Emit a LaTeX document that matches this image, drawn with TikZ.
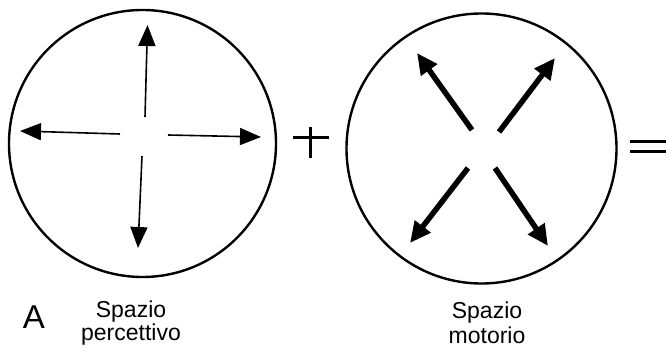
\documentclass[tikz,border=0pt]{standalone}
\usepackage{fontspec}
\setmainfont{Liberation Sans}
\usetikzlibrary{arrows.meta}
\begin{document}
\begin{tikzpicture}[x=1pt,y=-1pt,
  ring/.style={draw,line width=2.4pt,circle,inner sep=0pt},
  thinarrow/.style={line width=1.6pt,-{Triangle[length=21pt,width=17pt]}},
  thickarrow/.style={line width=5.5pt,-{Triangle[length=21pt,width=19pt]}},
  sym/.style={line width=3pt},
  lab/.style={font=\fontsize{23}{23}\selectfont,anchor=base,inner sep=0pt}]
\useasboundingbox (0,0) rectangle (666,352);
\clip (0,0) rectangle (666,352);
% circles
\node[ring,minimum size=267pt] (c1) at (142.5,143.5) {};
\node[ring,minimum size=270pt] (c2) at (481.5,148.5) {};
% perceptual arrows
\coordinate (u0) at (145,117); \coordinate (u1) at (147.5,25);
\coordinate (l0) at (120,134); \coordinate (l1) at (20,131);
\coordinate (r0) at (168,135); \coordinate (r1) at (261,137);
\coordinate (d0) at (142,156); \coordinate (d1) at (138,248);
\draw[thinarrow] (u0) -- (u1);
\draw[thinarrow] (l0) -- (l1);
\draw[thinarrow] (r0) -- (r1);
\draw[thinarrow] (d0) -- (d1);
% motor arrows
\coordinate (nw0) at (472,130); \coordinate (nw1) at (417,53);
\coordinate (ne0) at (499,132); \coordinate (ne1) at (555,58);
\coordinate (sw0) at (468,168); \coordinate (sw1) at (410,243);
\coordinate (se0) at (495,168); \coordinate (se1) at (548,246);
\draw[thickarrow] (nw0) -- (nw1);
\draw[thickarrow] (ne0) -- (ne1);
\draw[thickarrow] (sw0) -- (sw1);
\draw[thickarrow] (se0) -- (se1);
% plus
\coordinate (pl) at (293,138); \coordinate (pr) at (329,138);
\coordinate (pt) at (310,127); \coordinate (pb) at (310,158);
\draw[sym] (pl) -- (pr);
\draw[sym] (pt) -- (pb);
% equals
\coordinate (e1l) at (630,142); \coordinate (e1r) at (670,142);
\coordinate (e2l) at (630,152); \coordinate (e2r) at (670,152);
\draw[sym] (e1l) -- (e1r);
\draw[sym] (e2l) -- (e2r);
% labels
\node[font=\fontsize{33}{33}\selectfont,anchor=base,inner sep=0pt] (A) at (34,328) {A};
\node[lab] (s1) at (131,317) {Spazio};
\node[lab] (p1) at (131,340) {percettivo};
\node[lab] (s2) at (487,319) {Spazio};
\node[lab] (m2) at (487,343) {motorio};
\end{tikzpicture}
\end{document}
